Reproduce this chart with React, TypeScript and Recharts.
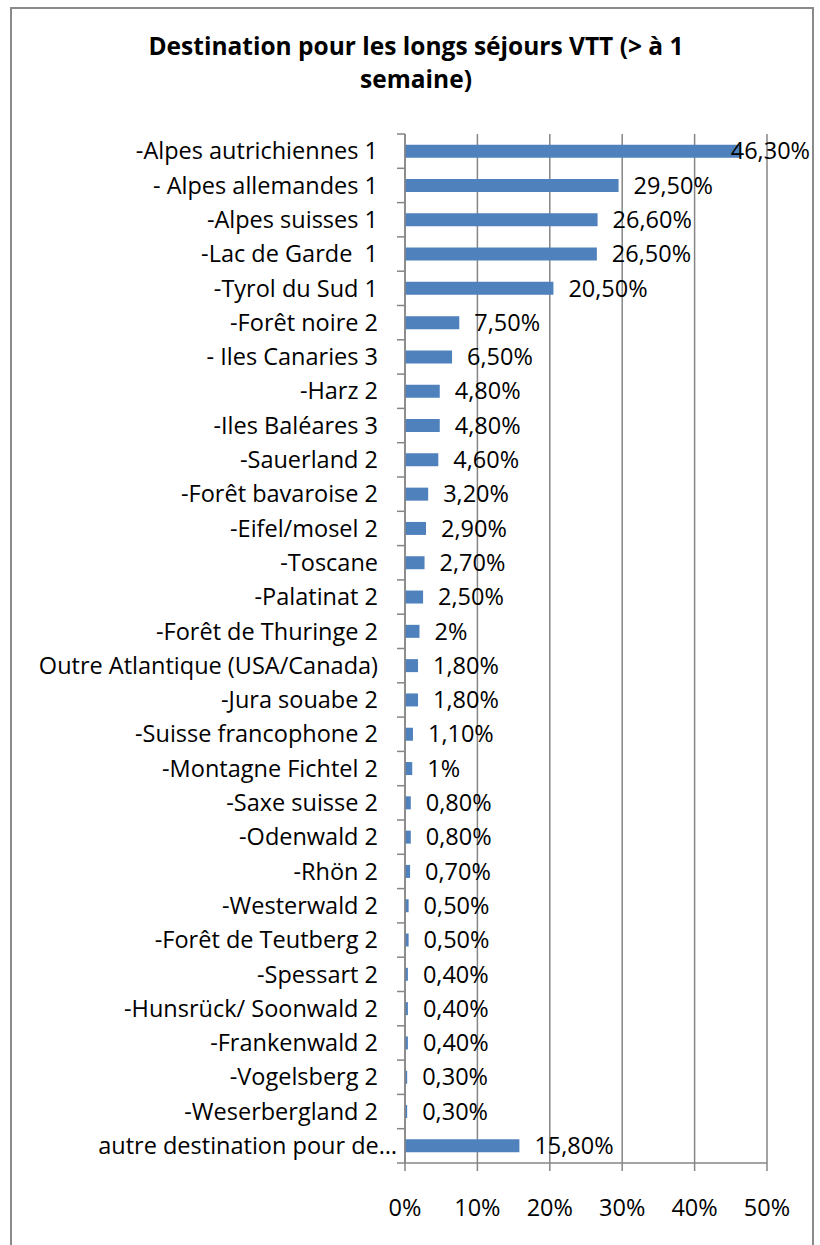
import { BarChart, Bar, XAxis, YAxis, CartesianGrid, LabelList } from 'recharts'

// Destinations VTT longs séjours, % des réponses
const destinations = [
  '-Alpes autrichiennes 1',
  '- Alpes allemandes 1',
  '-Alpes suisses 1',
  '-Lac de Garde  1',
  '-Tyrol du Sud 1',
  '-Forêt noire 2',
  '- Iles Canaries 3',
  '-Harz 2',
  '-Iles Baléares 3',
  '-Sauerland 2',
  '-Forêt bavaroise 2',
  '-Eifel/mosel 2',
  '-Toscane',
  '-Palatinat 2',
  '-Forêt de Thuringe 2',
  'Outre Atlantique (USA/Canada)',
  '-Jura souabe 2',
  '-Suisse francophone 2',
  '-Montagne Fichtel 2',
  '-Saxe suisse 2',
  '-Odenwald 2',
  '-Rhön 2',
  '-Westerwald 2',
  '-Forêt de Teutberg 2',
  '-Spessart 2',
  '-Hunsrück/ Soonwald 2',
  '-Frankenwald 2',
  '-Vogelsberg 2',
  '-Weserbergland 2',
  'autre destination pour de…',
]

const percents = [
  46.3, 29.5, 26.6, 26.5, 20.5, 7.5, 6.5, 4.8, 4.8, 4.6,
  3.2, 2.9, 2.7, 2.5, 2, 1.8, 1.8, 1.1, 1, 0.8,
  0.8, 0.7, 0.5, 0.5, 0.4, 0.4, 0.4, 0.3, 0.3, 15.8,
]

const xTicks = [0, 10, 20, 30, 40, 50]

const data = destinations.map((name, i) => ({ name, value: percents[i] }))

const FONT = '"Open Sans", "Noto Sans", sans-serif'
const FS = 23.5
const GRID = '#868686'
const BAR = '#4F81BD'

const W = 820
const H = 1245
const TOP = 134
const BOTTOM = 1163
const LEFT = 405
const RIGHT = 767
const XAXIS_H = 30
const BAND = (BOTTOM - TOP) / destinations.length

const fmt = (v: number) =>
  Number.isInteger(v) ? `${v}%` : `${v.toFixed(2).replace('.', ',')}%`

// Excel puts category ticks on the band edges, not the centres
function CatTick(props: any) {
  const { x, y, payload, index } = props
  const last = index === destinations.length - 1
  // truncated label runs into the tick area in the original
  const shift = String(payload.value).endsWith('…') ? 19 : 0
  return (
    <g>
      <line x1={LEFT - 8} x2={LEFT} y1={y - BAND / 2} y2={y - BAND / 2} stroke={GRID} strokeWidth={1.5} />
      {last && <line x1={LEFT - 8} x2={LEFT} y1={y + BAND / 2} y2={y + BAND / 2} stroke={GRID} strokeWidth={1.5} />}
      <text
        x={x + shift}
        y={y}
        dy="0.35em"
        textAnchor="end"
        fontSize={FS}
        fontFamily={FONT}
        fill="#000"
        style={{ whiteSpace: 'pre' }}
      >
        {payload.value}
      </text>
    </g>
  )
}

function ValueLabel(props: any) {
  const { x, y, width, height, value } = props
  const end = x + width + 15
  const nearEdge = end + 78 > W - 6
  return (
    <text
      x={nearEdge ? W - 10 : end}
      y={y + height / 2}
      dy="0.35em"
      textAnchor={nearEdge ? 'end' : 'start'}
      fontSize={FS}
      fontFamily={FONT}
      fill="#000"
    >
      {fmt(value)}
    </text>
  )
}

export default function App() {
  return (
    <div style={{ position: 'absolute', left: 0, top: 0, width: W, height: H, background: '#fff', overflow: 'hidden' }}>
      <div style={{
        position: 'absolute', left: 10, top: 7, width: 804, height: H,
        border: '2px solid #8a8a8a', boxSizing: 'border-box',
      }} />
      <div style={{
        position: 'absolute', left: 0, top: 29, width: 832, textAlign: 'center',
        fontFamily: FONT, fontWeight: 700, fontSize: 24.5, lineHeight: '33px', color: '#000',
      }}>
        Destination pour les longs séjours VTT (&gt; à 1<br />semaine)
      </div>
      <div style={{ position: 'absolute', left: 0, top: 0 }}>
        <BarChart
          width={W}
          height={H}
          data={data}
          layout="vertical"
          barCategoryGap="31%"
          margin={{ top: TOP, bottom: H - BOTTOM - XAXIS_H, left: 10, right: W - RIGHT }}
        >
          <CartesianGrid horizontal={false} stroke={GRID} strokeWidth={1.5} />
          <XAxis
            type="number"
            domain={[0, 50]}
            ticks={xTicks}
            height={XAXIS_H}
            tickFormatter={(v) => `${v}%`}
            tickSize={8}
            tickMargin={28}
            stroke={GRID}
            strokeWidth={1.5}
            tick={{ fontSize: FS, fontFamily: FONT, fill: '#000' }}
          />
          <YAxis
            type="category"
            dataKey="name"
            width={LEFT - 10}
            interval={0}
            tickLine={false}
            tickSize={8}
            tickMargin={19}
            stroke={GRID}
            strokeWidth={1.5}
            tick={<CatTick />}
          />
          <Bar dataKey="value" fill={BAR} isAnimationActive={false}>
            <LabelList dataKey="value" content={<ValueLabel />} />
          </Bar>
        </BarChart>
      </div>
    </div>
  )
}
